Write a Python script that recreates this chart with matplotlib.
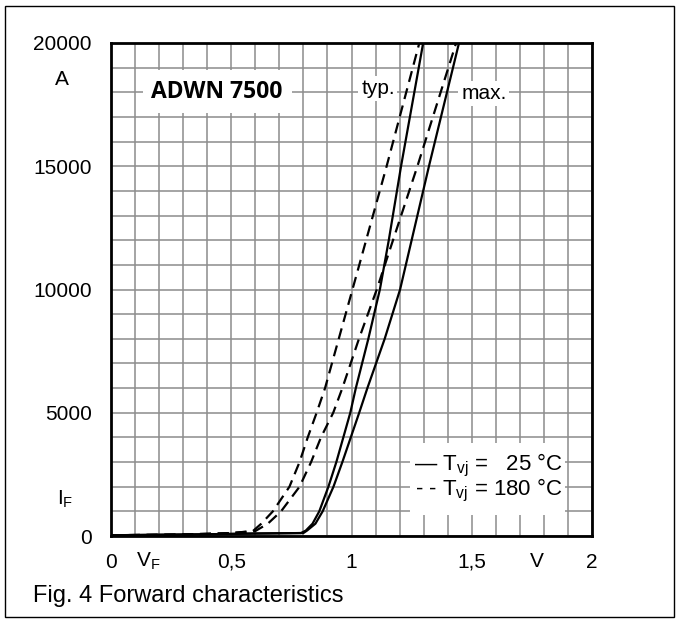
import numpy as np
import matplotlib
matplotlib.use("Agg")
import matplotlib.pyplot as plt
from matplotlib.patches import Rectangle

plt.rcParams['font.family'] = ['Liberation Sans', 'DejaVu Sans']
plt.rcParams['mathtext.fontset'] = 'custom'
plt.rcParams['mathtext.rm'] = 'Liberation Sans'
plt.rcParams['mathtext.it'] = 'Liberation Sans:italic'

# forward voltage V_F (V) / forward current I_F (A)
v_typ25 = [0.00, 0.20, 0.40, 0.60, 0.79, 0.81, 0.838, 0.866, 0.904, 0.937, 0.966, 0.995, 1.018, 1.070, 1.118, 1.155, 1.206, 1.298]
i_typ25 = [30, 50, 70, 100, 120, 220, 500, 1000, 2000, 3000, 4000, 5000, 6000, 8000, 10000, 12000, 15000, 20000]

v_max25 = [0.00, 0.20, 0.40, 0.60, 0.80, 0.815, 0.85, 0.88, 0.925, 0.962, 0.997, 1.032, 1.066, 1.138, 1.202, 1.322, 1.447]
i_max25 = [30, 50, 70, 100, 120, 220, 500, 1000, 2000, 3000, 4000, 5000, 6000, 8000, 10000, 15000, 20000]

v_typ180 = [0.00, 0.30, 0.50, 0.59, 0.625, 0.673, 0.742, 0.784, 0.818, 0.855, 0.890, 0.947, 1.004, 1.146, 1.282]
i_typ180 = [30, 60, 120, 200, 500, 1000, 2000, 3000, 4000, 5000, 6000, 8000, 10000, 15000, 20000]

v_max180 = [0.00, 0.30, 0.50, 0.60, 0.652, 0.707, 0.784, 0.832, 0.873, 0.924, 0.962, 1.031, 1.105, 1.274, 1.435]
i_max180 = [30, 60, 120, 200, 500, 1000, 2000, 3000, 4000, 5000, 6000, 8000, 10000, 15000, 20000]

x_ticks = [0, 0.5, 1, 1.5, 2]
x_labels = ["0", "0,5", "1", "1,5", "2"]
y_ticks = [0, 5000, 10000, 15000, 20000]
y_labels = ["0", "5000", "10000", "15000", "20000"]

fig = plt.figure(figsize=(6.81, 6.2), dpi=100)
ax = fig.add_axes([111 / 681, 1 - 536 / 620, 481 / 681, 493 / 620])

# curves
solid = dict(color='black', lw=1.6, zorder=3)
dashed = dict(color='black', lw=1.6, ls=(0, (5, 3)), zorder=3)
ax.plot(v_typ25, i_typ25, **solid)
ax.plot(v_max25, i_max25, **solid)
ax.plot(v_typ180, i_typ180, **dashed)
ax.plot(v_max180, i_max180, **dashed)

ax.set_xlim(0, 2)
ax.set_ylim(0, 20000)
ax.set_xticks(x_ticks)
ax.set_xticklabels(x_labels)
ax.set_yticks(y_ticks)
ax.set_yticklabels(y_labels)
ax.set_xticks(np.arange(0, 2.01, 0.1), minor=True)
ax.set_yticks(np.arange(0, 20001, 1000), minor=True)
ax.tick_params(which='both', length=0, labelsize=15)
ax.tick_params(axis='x', pad=12)
ax.tick_params(axis='y', pad=14)
ax.set_axisbelow(True)
ax.grid(which='both', color='#8c8c8c', lw=1.1)
for s in ax.spines.values():
    s.set_linewidth(2)

# white boxes over the grid
ax.add_patch(Rectangle((0.133, 17160), 0.62, 1740, fc='white', ec='none', zorder=1))
ax.add_patch(Rectangle((1.243, 852), 0.645, 2920, fc='white', ec='none', zorder=1))

ax.text(0.44, 18030, "ADWN 7500", family=['Open Sans', 'DejaVu Sans'], weight='bold',
        fontsize=16.5, ha='center', va='center', zorder=4)
ax.text(1.11, 18150, "typ.", fontsize=15, ha='center', va='center', zorder=4,
        bbox=dict(fc='white', ec='none', pad=2))
ax.text(1.55, 17950, "max.", fontsize=15, ha='center', va='center', zorder=4,
        bbox=dict(fc='white', ec='none', pad=2))

ax.text(1.878, 2880, r"— T$_{\mathregular{vj}}$ =   25 °C", fontsize=16, ha='right', va='center', zorder=4)
ax.text(1.878, 1866, r"- - T$_{\mathregular{vj}}$ = 180 °C", fontsize=16, ha='right', va='center', zorder=4)

# axis unit / symbol labels
ax.text(-0.102, 18500, "A", fontsize=15, ha='center', va='center', transform=ax.get_yaxis_transform())
ax.text(-0.096, 1500, r"I$_{\mathregular{F}}$", fontsize=15, ha='center', va='center',
        transform=ax.get_yaxis_transform())
ax.text(0.155, -0.052, r"V$_{\mathregular{F}}$", fontsize=15, ha='center', va='center',
        transform=ax.get_xaxis_transform())
ax.text(1.77, -0.052, "V", fontsize=15, ha='center', va='center', transform=ax.get_xaxis_transform())

fig.text(33 / 681, 1 - 596 / 620, "Fig. 4 Forward characteristics", fontsize=17, va='center')
fig.add_artist(Rectangle((5 / 681, 1 - 617 / 620), 669 / 681, 611 / 620, transform=fig.transFigure,
                         fill=False, ec='black', lw=1))

fig.savefig("out.png", dpi=100)
